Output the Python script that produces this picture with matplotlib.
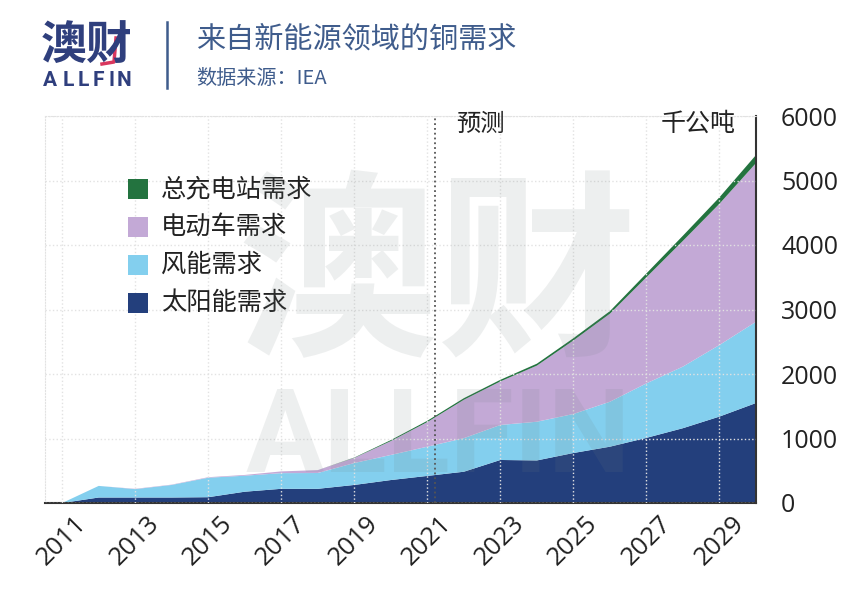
import matplotlib.pyplot as plt
from matplotlib.patches import Rectangle

plt.rcParams['font.family'] = ['Noto Sans CJK SC', 'DejaVu Sans']

years = list(range(2011, 2031))
solar = [0, 85, 85, 85, 90, 175, 220, 220, 280, 356, 420, 485, 667, 660, 775, 873, 1010, 1160, 1340, 1550]
wind = [0, 180, 130, 195, 302, 248, 243, 245, 340, 389, 453, 520, 543, 600, 605, 697, 845, 955, 1110, 1260]
ev = [0, 0, 5, 5, 8, 12, 27, 45, 80, 215, 382, 595, 675, 870, 1140, 1365, 1645, 1950, 2190, 2460]
charging = [0, 0, 0, 0, 0, 0, 0, 0, 5, 15, 20, 25, 25, 30, 35, 40, 60, 80, 100, 125]

labels = ["太阳能需求", "风能需求", "电动车需求", "总充电站需求"]
colors = ["#233f7c", "#83cfee", "#c3a9d6", "#23733f"]
x_ticks = list(range(2011, 2030, 2))
y_ticks = [0, 1000, 2000, 3000, 4000, 5000, 6000]

NAVY = "#2f3f7d"
SLATE = "#3f5c8c"
W, H = 866, 599

fig = plt.figure(figsize=(W / 100, H / 100), dpi=100)
ax = fig.add_axes([45 / W, 1 - 503 / H, (756 - 45) / W, (503 - 116) / H])

ax.stackplot(years, solar, wind, ev, charging, colors=colors, zorder=2, linewidth=0)
ax.set_xlim(2010.53, 2030)
ax.set_ylim(0, 6000)

ax.set_xticks(x_ticks)
ax.set_xticklabels(x_ticks, rotation=45, ha="center", va="top",
                   fontsize=18.5, family="Open Sans", color="#222222")
ax.yaxis.tick_right()
ax.set_yticks(y_ticks)
ax.set_yticklabels(y_ticks, fontsize=18, family="Open Sans", color="#222222")
ax.tick_params(axis="x", length=0, pad=6)
ax.tick_params(axis="y", length=0, pad=18)
ax.grid(True, color="#e2e2e2", linestyle=":", linewidth=1, zorder=3)
ax.set_axisbelow(False)

for side in ["left", "top"]:
    ax.spines[side].set_color("#e2e2e2")
    ax.spines[side].set_linestyle(":")
for side in ["right", "bottom"]:
    ax.spines[side].set_color("#333333")
    ax.spines[side].set_linewidth(1.5)

# forecast divider
ax.axvline(2021.2, color="#555555", linestyle=":", linewidth=1.3, zorder=4)
ax.text(2022.45, 5880, "预测", fontsize=17.5, color="#222222", ha="center", va="center", zorder=5)
ax.text(2028.42, 5880, "千公吨", fontsize=18, color="#222222", ha="center", va="center", zorder=5)

# legend, top to bottom
leg_y = [189, 227, 265, 303]
for name, col, yp in zip(labels[::-1], colors[::-1], leg_y):
    fig.add_artist(Rectangle((128 / W, 1 - (yp + 10) / H), 20 / W, 20 / H,
                             transform=fig.transFigure, color=col, linewidth=0))
    fig.text(161 / W, 1 - yp / H, name, fontsize=18.2, color="#222222", va="center")

# watermark
fig.text(437 / W, 1 - 282 / H, "澳财", fontsize=144, fontweight="bold", color="#6f7f7f",
         alpha=0.12, ha="center", va="center", zorder=6)
fig.text(438 / W, 1 - 440 / H, "ALLFIN", fontsize=84, fontweight="bold", color="#6f7f7f",
         alpha=0.12, ha="center", va="center", zorder=6, family="Roboto")

# header
fig.text(87 / W, 1 - 46 / H, "澳财", fontsize=33, fontweight="bold", color=NAVY, ha="center", va="center")
for letter, xp in zip("ALLFIN", [43, 63, 78, 93, 108, 117]):
    fig.text(xp / W, 1 - 80 / H, letter, fontsize=15, fontweight="bold", color=NAVY, va="center",
             family="Roboto")
fig.add_artist(plt.Line2D([116 / W, 114 / W, 102 / W], [1 - 38 / H, 1 - 62 / H, 1 - 64 / H],
                          color="#d9375e", linewidth=2.5, transform=fig.transFigure))
fig.add_artist(plt.Line2D([167 / W, 167 / W], [1 - 22 / H, 1 - 88 / H], color=SLATE, linewidth=1.8,
                          transform=fig.transFigure))
fig.text(196 / W, 1 - 39 / H, "来自新能源领域的铜需求", fontsize=21, color=SLATE, va="center")
fig.text(196 / W, 1 - 78 / H, "数据来源：IEA", fontsize=14.5, color=SLATE, va="center")

plt.savefig("out.png", dpi=100)
